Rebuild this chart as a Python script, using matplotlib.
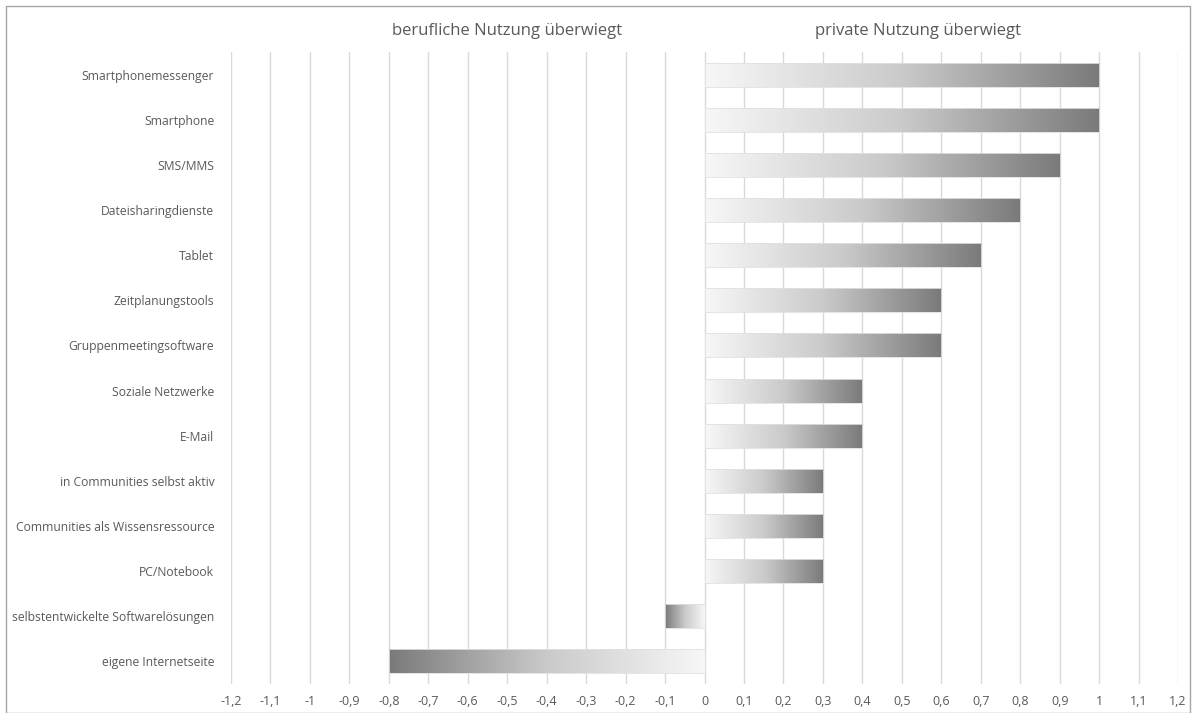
import numpy as np
import matplotlib.pyplot as plt
from matplotlib.patches import Rectangle
from matplotlib.colors import LinearSegmentedColormap

# data, top to bottom
kategorien = ["Smartphonemessenger", "Smartphone", "SMS/MMS", "Dateisharingdienste",
              "Tablet", "Zeitplanungstools", "Gruppenmeetingsoftware", "Soziale Netzwerke",
              "E-Mail", "in Communities selbst aktiv", "Communities als Wissensressource",
              "PC/Notebook", "selbstentwickelte Softwarelösungen", "eigene Internetseite"]
werte = [1.0, 1.0, 0.9, 0.8, 0.7, 0.6, 0.6, 0.4, 0.4, 0.3, 0.3, 0.3, -0.1, -0.8]
ticks = [round(t, 1) for t in np.arange(-1.2, 1.21, 0.1)]

plt.rcParams['font.family'] = ['Open Sans', 'DejaVu Sans']
txt = '#595959'

fig = plt.figure(figsize=(11.95, 7.13), dpi=100)
ax = fig.add_axes([231/1195, 1-684/713, (1178-231)/1195, (684-52)/713])

cmap = LinearSegmentedColormap.from_list('grau', ['#f7f7f7', '#cacaca', '#7a7a7a'])
grad = np.linspace(0, 1, 256).reshape(1, -1)
h = 0.53
for i, v in enumerate(werte):
    y = len(werte) - 1 - i
    ax.imshow(grad, cmap=cmap, extent=[0, v, y - h/2, y + h/2], aspect='auto',
              zorder=3, interpolation='bicubic')
    ax.add_patch(Rectangle((min(0, v), y - h/2), abs(v), h, fill=False,
                           edgecolor='#e0e0e0', lw=0.6, zorder=4))

ax.set_xlim(-1.2, 1.2)
ax.set_ylim(-0.5, len(werte) - 0.5)
ax.set_xticks(ticks)
ax.set_xticklabels([('%g' % t).replace('.', ',') for t in ticks], color=txt, fontsize=9)
ax.set_yticks(range(len(werte)))
ax.set_yticklabels(kategorien[::-1], color=txt, fontsize=8.7)
ax.tick_params(length=0, pad=12)
ax.tick_params(axis='x', pad=8)
ax.grid(axis='x', color='#d9d9d9', lw=1, zorder=0)
ax.set_axisbelow(True)
for s in ax.spines.values():
    s.set_visible(False)

tr = ax.get_xaxis_transform()
ax.text(-0.5, 1.033, "berufliche Nutzung überwiegt", transform=tr, ha='center', va='center',
        color=txt, fontsize=12)
ax.text(0.54, 1.033, "private Nutzung überwiegt", transform=tr, ha='center', va='center',
        color=txt, fontsize=12)

fig.patches.append(Rectangle((6/1195, 0), 1184/1195, 1 - 6/713, transform=fig.transFigure,
                             fill=False, edgecolor='#a6a6a6', lw=1))

fig.savefig('out.png', dpi=100)
